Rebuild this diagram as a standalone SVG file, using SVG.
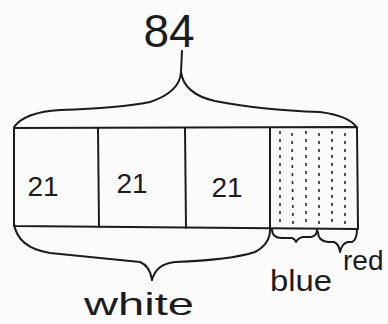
<svg xmlns="http://www.w3.org/2000/svg" width="388" height="324" viewBox="0 0 388 324">
  <style>
    .ink { fill: none; stroke: #1c1c1c; stroke-width: 2; stroke-linecap: round; stroke-linejoin: round; }
    .dots { fill: none; stroke: #2a2a2a; stroke-width: 1.6; stroke-dasharray: 3 5; }
    .hand { font-family: "Liberation Sans", "DejaVu Sans", sans-serif; fill: #1c1c1c; }
  </style>
  <rect width="388" height="324" fill="#fbfbfb"/>

  <!-- total label and top brace -->
  <g id="total">
    <text class="hand" x="169" y="47" font-size="46" text-anchor="middle">84</text>
    <path class="ink" d="M182 51 L181 72 Q180 92 150 102 Q120 108 60 110 Q25 112 14 127"/>
    <path class="ink" d="M181 72 Q184 94 215 101 Q260 110 320 112 Q350 116 357 128"/>
  </g>

  <!-- tape: three white parts and the shaded part -->
  <g id="tape">
    <path class="ink" d="M14 128 L357 127 L358 229 L14 226 Z"/>
  </g>
  <g id="part1">
    <line class="ink" x1="98" y1="128" x2="99" y2="227"/>
    <text class="hand" x="43" y="196" font-size="28" text-anchor="middle">21</text>
  </g>
  <g id="part2">
    <line class="ink" x1="185" y1="128" x2="186" y2="228"/>
    <text class="hand" x="132" y="193" font-size="28" text-anchor="middle">21</text>
  </g>
  <g id="part3">
    <line class="ink" x1="270" y1="128" x2="270" y2="229"/>
    <text class="hand" x="227" y="197" font-size="28" text-anchor="middle">21</text>
  </g>
  <g id="shaded">
    <line class="dots" x1="280" y1="131" x2="280" y2="226"/>
    <line class="dots" x1="292" y1="133" x2="293" y2="226"/>
    <line class="dots" x1="306" y1="131" x2="306" y2="226"/>
    <line class="dots" x1="319" y1="133" x2="319" y2="226"/>
    <line class="dots" x1="332" y1="131" x2="332" y2="226"/>
    <line class="dots" x1="345" y1="133" x2="345" y2="226"/>
  </g>

  <!-- lower braces and labels -->
  <g id="white">
    <path class="ink" d="M14 224 Q18 248 50 253 Q100 258 140 262 Q150 266 152 280"/>
    <path class="ink" d="M152 280 Q156 264 175 262 Q230 260 255 252 Q270 244 270 230"/>
    <text class="hand" x="84" y="315" font-size="32" textLength="110" lengthAdjust="spacingAndGlyphs">white</text>
  </g>
  <g id="blue">
    <path class="ink" d="M272 229 Q272 238 282 238 L292 238 Q295 239 296 242 Q298 238 303 237 L311 237 Q317 236 317 230"/>
    <text class="hand" x="270" y="291" font-size="30" textLength="62" lengthAdjust="spacingAndGlyphs">blue</text>
  </g>
  <g id="red">
    <path class="ink" d="M318 232 Q318 241 328 242 L334 242 Q339 244 340 252 Q342 243 348 242 L352 242 Q357 240 357 229"/>
    <text class="hand" x="343" y="270" font-size="28">red</text>
  </g>
</svg>
